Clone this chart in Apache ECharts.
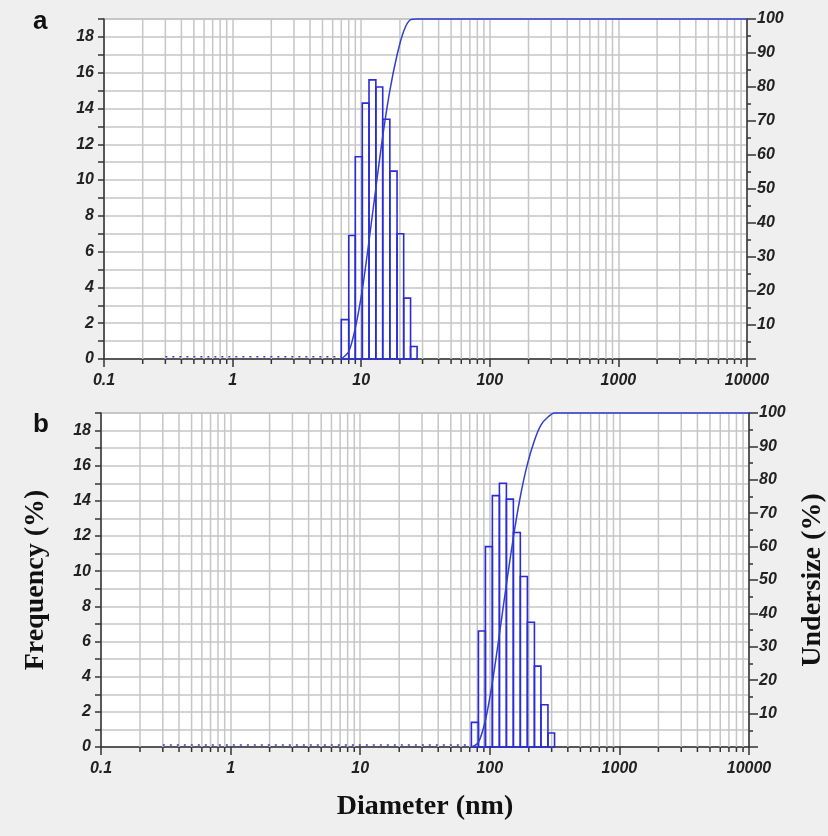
<!DOCTYPE html>
<html>
<head>
<meta charset="utf-8">
<script src="https://cdn.jsdelivr.net/npm/echarts@6/dist/echarts.min.js"></script>
<style>
  html, body { margin: 0; background: #efefef; }
  #chart { width: 828px; height: 836px; }
</style>
</head>
<body>
<div id="chart"></div>
<script>
// panel a: bin edges (nm), frequency (%) and undersize (%) at each edge
const aEdges = [7.0, 8.0, 9.0, 10.2, 11.5, 13.0, 14.7, 16.7, 19.0, 21.4, 24.2, 27.2]
const aFreq = [2.2, 6.9, 11.3, 14.3, 15.6, 15.2, 13.4, 10.5, 7.0, 3.4, 0.7]
const aCum = [0, 2.2, 9.1, 20.4, 34.7, 50.3, 65.5, 78.9, 89.4, 96.4, 99.8, 100]

// panel b
const bEdges = [72.1, 81.7, 92.5, 104.7, 118.6, 134.3, 152, 172, 195, 221, 248, 281, 316]
const bFreq = [1.4, 6.6, 11.4, 14.3, 15.0, 14.1, 12.2, 9.7, 7.1, 4.6, 2.4, 0.8]
const bCum = [0, 1.4, 8.0, 19.4, 33.7, 48.7, 62.8, 75.0, 84.7, 91.8, 96.4, 98.8, 100]

// minor log ticks / grid lines on the diameter axis
const xMinor = [0.2, 0.3, 0.4, 0.5, 0.6, 0.7, 0.8, 0.9,
  2, 3, 4, 5, 6, 7, 8, 9,
  20, 30, 40, 50, 60, 70, 80, 90,
  200, 300, 400, 500, 600, 700, 800, 900,
  2000, 3000, 4000, 5000, 6000, 7000, 8000, 9000]
const dotStart = 0.3
const freqMax = 19
const cumMax = 100

const blue = '#2b2bd6'
const gridGray = '#c6c6c6'
const dark = '#333'
const tickFont = {
  color: '#222', fontSize: 16, fontWeight: 'bold', fontStyle: 'italic', fontFamily: 'Liberation Sans'
}
const titleFont = {
  color: '#111', fontSize: 28, fontWeight: 'bold', fontFamily: 'Liberation Serif'
}

function xAxis (idx, name) {
  return {
    type: 'log', logBase: 10, min: 0.1, max: 10000, gridIndex: idx,
    axisLine: { lineStyle: { color: dark, width: 1.5 } },
    axisTick: { length: 8, lineStyle: { color: dark, width: 1.5 } },
    axisLabel: { ...tickFont, margin: 14, formatter: v => String(+(+v).toPrecision(6)) },
    splitLine: { show: true, lineStyle: { color: gridGray, width: 1.5 } },
    name: name, nameLocation: 'middle', nameGap: 46, nameTextStyle: titleFont
  }
}

function leftAxis (idx, name) {
  return {
    type: 'value', min: 0, max: freqMax, interval: 1, gridIndex: idx, position: 'left',
    axisLine: { show: true, lineStyle: { color: dark, width: 1.5 } },
    axisTick: { show: true, length: 6, lineStyle: { color: dark, width: 1.5 } },
    axisLabel: { ...tickFont, margin: 10, formatter: v => (v % 2 === 0 ? v : '') },
    splitLine: { show: true, lineStyle: { color: gridGray, width: 1.5 } },
    name: name, nameLocation: 'middle', nameGap: 51, nameRotate: 90, nameTextStyle: titleFont
  }
}

function rightAxis (idx, name) {
  return {
    type: 'value', min: 0, max: cumMax, interval: 10, gridIndex: idx, position: 'right',
    axisLine: { show: true, lineStyle: { color: dark, width: 1.5 } },
    axisTick: { show: true, length: 9, lineStyle: { color: dark, width: 1.5 } },
    minorTick: { show: true, splitNumber: 2, length: 4, lineStyle: { color: dark, width: 1.5 } },
    axisLabel: { ...tickFont, margin: 10, formatter: v => (v === 0 ? '' : v) },
    splitLine: { show: false },
    name: name, nameLocation: 'middle', nameGap: 50, nameRotate: 90, nameTextStyle: titleFont
  }
}

function panelSeries (idx, edges, freq, cum) {
  const bins = freq.map((f, i) => [edges[i], edges[i + 1], f])
  const curve = cum.map((c, i) => [edges[i], c])
  curve.push([10000, cumMax])
  return [
    {
      type: 'custom', xAxisIndex: idx, yAxisIndex: idx * 2, silent: true, clip: false, z: 1,
      data: xMinor.map(v => [v, 0]),
      encode: { x: 0, y: 1 },
      renderItem: (params, api) => {
        const v = api.value(0)
        const top = api.coord([v, freqMax])
        const bot = api.coord([v, 0])
        return {
          type: 'group',
          children: [
            { type: 'line', shape: { x1: top[0], y1: top[1], x2: bot[0], y2: bot[1] }, style: { stroke: gridGray, lineWidth: 1.5 } },
            { type: 'line', shape: { x1: bot[0], y1: bot[1], x2: bot[0], y2: bot[1] + 5 }, style: { stroke: dark, lineWidth: 1.5 } }
          ]
        }
      }
    },
    {
      type: 'line', xAxisIndex: idx, yAxisIndex: idx * 2, silent: true, z: 10, clip: false,
      data: [[dotStart, 0.12], [edges[0], 0.12]],
      symbol: 'none',
      lineStyle: { color: '#3a3ae0', width: 1.5, type: [2, 5] }
    },
    {
      type: 'custom', xAxisIndex: idx, yAxisIndex: idx * 2, silent: true, z: 4,
      data: bins,
      encode: { x: [0, 1], y: 2 },
      renderItem: (params, api) => {
        const p0 = api.coord([api.value(0), 0])
        const p1 = api.coord([api.value(1), api.value(2)])
        return {
          type: 'rect',
          shape: { x: p0[0], y: p1[1], width: p1[0] - p0[0], height: p0[1] - p1[1] },
          style: { fill: 'none', stroke: blue, lineWidth: 1.6 }
        }
      }
    },
    {
      type: 'line', xAxisIndex: idx, yAxisIndex: idx * 2 + 1, silent: true, z: 5, clip: false,
      data: curve,
      symbol: 'none', smooth: 0.3,
      lineStyle: { color: '#3040cc', width: 1.5 }
    }
  ]
}

const chart = echarts.init(document.getElementById('chart'))
chart.setOption({
  backgroundColor: '#efefef',
  animation: false,
  grid: [
    { left: 104, top: 19, width: 643, height: 340, outerBoundsMode: 'none', show: true, backgroundColor: '#fff', borderColor: '#999', borderWidth: 1 },
    { left: 101, top: 413, width: 648, height: 334, outerBoundsMode: 'none', show: true, backgroundColor: '#fff', borderColor: '#999', borderWidth: 1 }
  ],
  graphic: [
    { type: 'text', left: 33, top: 9, style: { text: 'a', font: 'bold 26px "Liberation Sans"', fill: '#111' } },
    { type: 'text', left: 33, top: 412, style: { text: 'b', font: 'bold 26px "Liberation Sans"', fill: '#111' } }
  ],
  xAxis: [xAxis(0, ''), xAxis(1, 'Diameter (nm)')],
  yAxis: [leftAxis(0, ''), rightAxis(0, ''), leftAxis(1, 'Frequency (%)'), rightAxis(1, 'Undersize (%)')],
  series: [
    ...panelSeries(0, aEdges, aFreq, aCum),
    ...panelSeries(1, bEdges, bFreq, bCum)
  ]
})
</script>
</body>
</html>
